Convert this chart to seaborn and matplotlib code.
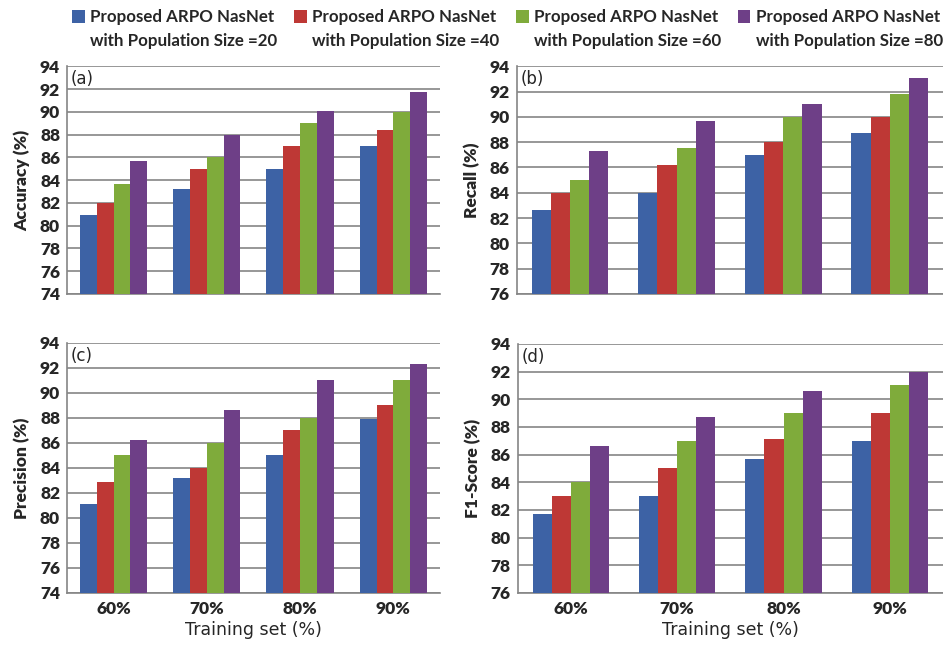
import matplotlib
matplotlib.use("Agg")
import matplotlib.pyplot as plt
import numpy as np
import pandas as pd
import seaborn as sns
from matplotlib.legend_handler import HandlerPatch
from matplotlib.patches import Patch, Rectangle

sns.set_style("white")
plt.rcParams["font.family"] = ["Lato", "DejaVu Sans"]

# Data
TRAINING = ["60%", "70%", "80%", "90%"]
POP_LABELS = [
    "Proposed ARPO NasNet\nwith Population Size =20",
    "Proposed ARPO NasNet\nwith Population Size =40",
    "Proposed ARPO NasNet\nwith Population Size =60",
    "Proposed ARPO NasNet\nwith Population Size =80",
]
COLORS = ["#3D62A5", "#BE3835", "#7FAB3B", "#6E3F87"]

accuracy = [
    [80.9, 83.2, 85.0, 87.0],
    [82.0, 85.0, 87.0, 88.4],
    [83.7, 86.0, 89.0, 90.0],
    [85.7, 88.0, 90.1, 91.7],
]
recall = [
    [82.6, 84.0, 87.0, 88.7],
    [84.0, 86.2, 88.0, 90.0],
    [85.0, 87.5, 90.0, 91.8],
    [87.3, 89.7, 91.0, 93.1],
]
precision = [
    [81.1, 83.2, 85.0, 87.9],
    [82.9, 84.0, 87.0, 89.0],
    [85.0, 86.0, 88.0, 91.0],
    [86.2, 88.6, 91.0, 92.3],
]
f1_score = [
    [81.7, 83.0, 85.7, 87.0],
    [83.0, 85.0, 87.1, 89.0],
    [84.0, 87.0, 89.0, 91.0],
    [86.6, 88.7, 90.6, 92.0],
]

panels = [
    ("(a)", "Accuracy (%)", accuracy, (74, 94), [0.071, 0.5456, 0.3955, 0.352], False),
    ("(b)", "Recall (%)", recall, (76, 94), [0.548, 0.5456, 0.452, 0.352], False),
    ("(c)", "Precision (%)", precision, (74, 94), [0.071, 0.0835, 0.3955, 0.3865], True),
    ("(d)", "F1-Score (%)", f1_score, (76, 94), [0.549, 0.0835, 0.451, 0.385], True),
]


def to_long(values):
    rows = []
    for label, series in zip(POP_LABELS, values):
        for cat, v in zip(TRAINING, series):
            rows.append({"Training": cat, "Population": label, "Value": v})
    return pd.DataFrame(rows)


def top_square(legend, orig_handle, xdescent, ydescent, width, height, fontsize):
    # square sits next to the first text line
    return Rectangle((-xdescent, -ydescent + 0.78 * fontsize), width, height)


fig = plt.figure(figsize=(9.43, 6.47), dpi=100)
grid_color = "#858585"

for tag, ylabel, values, ylim, rect, show_x in panels:
    ax = fig.add_axes(rect)
    df = to_long(values)
    sns.barplot(
        data=df, x="Training", y="Value", hue="Population",
        hue_order=POP_LABELS, palette=COLORS, width=0.72, gap=0,
        saturation=1, legend=False, ax=ax, linewidth=0, zorder=3,
    )
    ax.set_ylim(*ylim)
    ax.set_xlim(-0.5, 3.5)
    ax.set_yticks(np.arange(ylim[0], ylim[1] + 1, 2))
    ax.yaxis.grid(True, color=grid_color, linewidth=1.2, zorder=0)
    ax.set_axisbelow(True)
    for side in ["top", "right"]:
        ax.spines[side].set_visible(False)
    for side in ["left", "bottom"]:
        ax.spines[side].set_color(grid_color)
        ax.spines[side].set_linewidth(1.2)
    ax.tick_params(axis="y", labelsize=12.5, length=4, color=grid_color, pad=1)
    for lab in ax.get_yticklabels():
        lab.set_fontweight("heavy")
    ax.set_xticks(np.arange(-0.5, 4, 1), minor=True)
    ax.tick_params(axis="x", which="minor", length=5, color=grid_color, width=1.2)
    ax.tick_params(axis="x", which="major", length=0, labelsize=12.5, pad=6)
    if show_x:
        for lab in ax.get_xticklabels():
            lab.set_fontweight("heavy")
        ax.set_xlabel("Training set (%)", fontsize=12.5, family="DejaVu Sans", labelpad=3)
    else:
        ax.set_xticklabels([])
        ax.set_xlabel("")
    ax.set_ylabel(ylabel, fontsize=12.5, fontweight="heavy", labelpad=7)
    ax.text(0.01, 0.985, tag, transform=ax.transAxes, ha="left", va="top",
            fontsize=12, family="DejaVu Sans")

handles = [Patch(facecolor=c, edgecolor="none") for c in COLORS]
leg = fig.legend(
    handles, POP_LABELS, loc="upper left", bbox_to_anchor=(0.06, 1.009),
    ncol=4, frameon=False, prop={"weight": "bold", "size": 12.2},
    handlelength=0.75, handleheight=0.75, handletextpad=0.3, columnspacing=1.0,
    handler_map={Patch: HandlerPatch(patch_func=top_square)},
)
for t in leg.get_texts():
    t.set_linespacing(1.55)

fig.savefig("out.png", dpi=100)
